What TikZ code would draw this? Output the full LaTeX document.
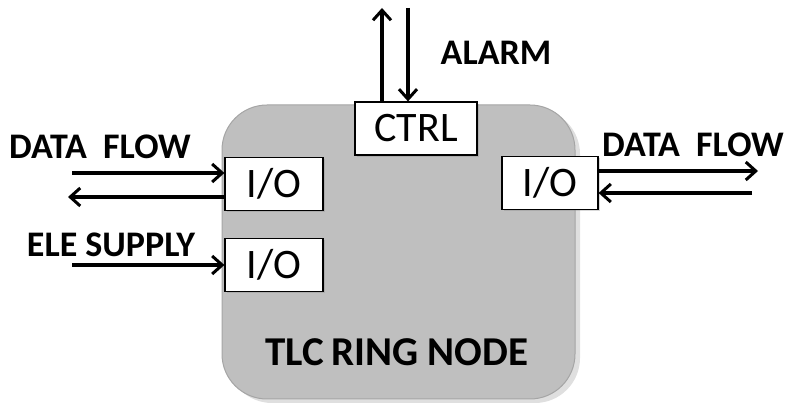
\documentclass[tikz,border=0pt]{standalone}
\usepackage{fontspec}
\setmainfont{Carlito}
\usepackage{tikz}
\usetikzlibrary{arrows.meta,positioning,calc,shadows}
\definecolor{nodegray}{RGB}{191,191,191}
\definecolor{edgegray}{RGB}{165,165,165}

\begin{document}
\begin{tikzpicture}[x=1pt, y=1pt,
    ring/.style={rectangle, draw=edgegray, line width=1pt, fill=nodegray,
                 rounded corners=45pt, minimum width=353pt, minimum height=294pt,
                 drop shadow={shadow xshift=5pt, shadow yshift=-4pt, opacity=0.25}},
    port/.style={rectangle, draw=black, line width=1.2pt, fill=white,
                 minimum width=98pt, minimum height=53pt, inner sep=0pt,
                 font=\fontsize{42}{46}\selectfont,
                 drop shadow={shadow xshift=2pt, shadow yshift=-2pt, opacity=0.3}},
    arr/.style={-{Straight Barb[length=10pt, width=18pt, line width=3pt]}, line width=3.5pt, black},
    label/.style={font=\fontsize{36}{40}\selectfont\bfseries, inner sep=0pt}
]
\useasboundingbox (0,0) rectangle (785,404);

% main node and its ports
\node[ring]                       (ring) at (398.5,152) {};
\node[port, minimum width=122pt]  (ctrl) at (416,275.5) {CTRL};
\node[port]                       (io1)  at (274,220)   {I/O};
\node[port]                       (io2)  at (274,139)   {I/O};
\node[port, minimum width=96pt]   (io3)  at (550,221)   {I/O};

\node[font=\fontsize{41}{45}\selectfont\bfseries] (title) at (397,52) {TLC\,RING NODE};

% labels
\node[label] (dfl)   at (100,257) {DATA\ \ FLOW};
\node[label] (ele)   at (111,159) {ELE SUPPLY};
\node[label] (alarm) at (496,351) {ALARM};
\node[label] (dfr)   at (693,259) {DATA\ \ FLOW};

% free ends of the connectors
\coordinate (dfin)  at (72,231);
\coordinate (dfout) at (68,207);
\coordinate (elein) at (72,139);
\coordinate (rout)  at (758,233);
\coordinate (rin)   at (752,211);
\coordinate (aup)   at (382,396);
\coordinate (adn)   at (408,396);

\draw[arr] (dfin) -- (dfin -| io1.west);
\draw[arr] (dfout -| io1.west) -- (dfout);
\draw[arr] (elein) -- (io2.west);
\draw[arr] (rout -| io3.east) -- (rout);
\draw[arr] (rin) -- (rin -| io3.east);
\draw[arr] (aup |- ctrl.north) -- (aup);
\draw[arr] (adn) -- (adn |- ctrl.north);
\end{tikzpicture}
\end{document}
